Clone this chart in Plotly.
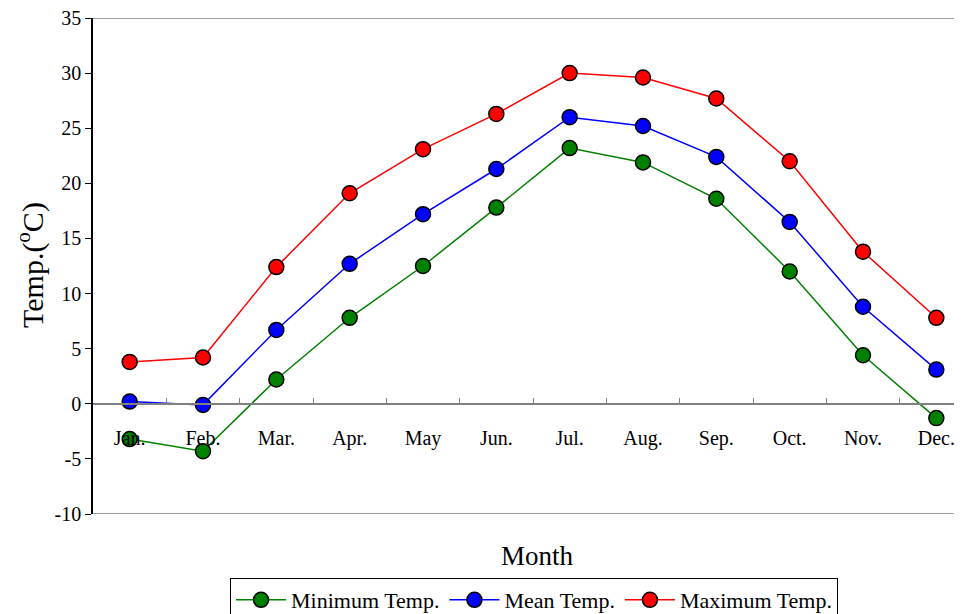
import plotly.graph_objects as go

months = ["Jan.", "Feb.", "Mar.", "Apr.", "May", "Jun.", "Jul.", "Aug.", "Sep.", "Oct.", "Nov.", "Dec."]
min_temp = [-3.2, -4.3, 2.2, 7.8, 12.5, 17.8, 23.2, 21.9, 18.6, 12.0, 4.4, -1.3]
mean_temp = [0.2, -0.1, 6.7, 12.7, 17.2, 21.3, 26.0, 25.2, 22.4, 16.5, 8.8, 3.1]
max_temp = [3.8, 4.2, 12.4, 19.1, 23.1, 26.3, 30.0, 29.6, 27.7, 22.0, 13.8, 7.8]
y_ticks = [-10, -5, 0, 5, 10, 15, 20, 25, 30, 35]
y_tick_labels = ["-10", "-5", "0", "5", "10", "15", "20", "25", "30", "35"]

FONT = "Liberation Serif, Times New Roman, serif"

fig = go.Figure()
series = [("Minimum Temp.", min_temp, "#008000"),
          ("Mean Temp.", mean_temp, "#0000FF"),
          ("Maximum Temp.", max_temp, "#FF0000")]
for name, vals, col in series:
    fig.add_trace(go.Scatter(
        x=months, y=vals, name=name, mode="lines+markers",
        line=dict(color=col, width=1.5),
        marker=dict(size=15, color=col, line=dict(color="black", width=1.5)),
    ))

fig.update_layout(
    width=954, height=606,
    margin=dict(l=85, r=0, t=10, b=100),
    plot_bgcolor="white", paper_bgcolor="white",
    font=dict(family=FONT, size=20, color="black"),
    showlegend=True,
    legend=dict(orientation="h", xref="container", yref="container",
                x=0.5514, xanchor="center", y=0.0594, yanchor="top",
                bordercolor="black", borderwidth=1, font=dict(size=22),
                itemwidth=50, tracegroupgap=0),
    xaxis=dict(
        type="category", range=[-0.5, 11.35], automargin=False,
        anchor="free", position=10 / 45,
        showline=True, linecolor="#808080", linewidth=1.5,
        ticks="inside", tickson="boundaries", ticklen=5, tickcolor="#808080",
        showgrid=False, zeroline=False,
        tickfont=dict(size=20), ticklabelstandoff=16,
    ),
    yaxis=dict(
        range=[-10, 35], domain=[0, 1], automargin=False,
        tickvals=y_ticks, ticktext=y_tick_labels, ticklabeloverflow="allow",
        showline=True, linecolor="black", linewidth=1.5,
        ticks="outside", ticklen=6, tickcolor="black",
        showgrid=False, zeroline=False,
        tickfont=dict(size=20),
    ),
    annotations=[
        dict(text="Month", x=0.511, y=-0.085, xref="paper", yref="paper",
             showarrow=False, font=dict(size=27), yanchor="middle"),
        dict(text="Temp.(<sup>o</sup>C)", x=-0.0725, y=0.502, xref="paper", yref="paper",
             showarrow=False, font=dict(size=30), textangle=-90,
             xanchor="center", yanchor="middle"),
    ],
    shapes=[
        dict(type="line", xref="paper", yref="y", x0=0, x1=1, y0=35, y1=35,
             line=dict(color="#808080", width=1.5)),
        dict(type="line", xref="paper", yref="y", x0=0, x1=1, y0=-10, y1=-10,
             line=dict(color="#808080", width=1.5)),
    ],
)

fig.write_html("out.html")
